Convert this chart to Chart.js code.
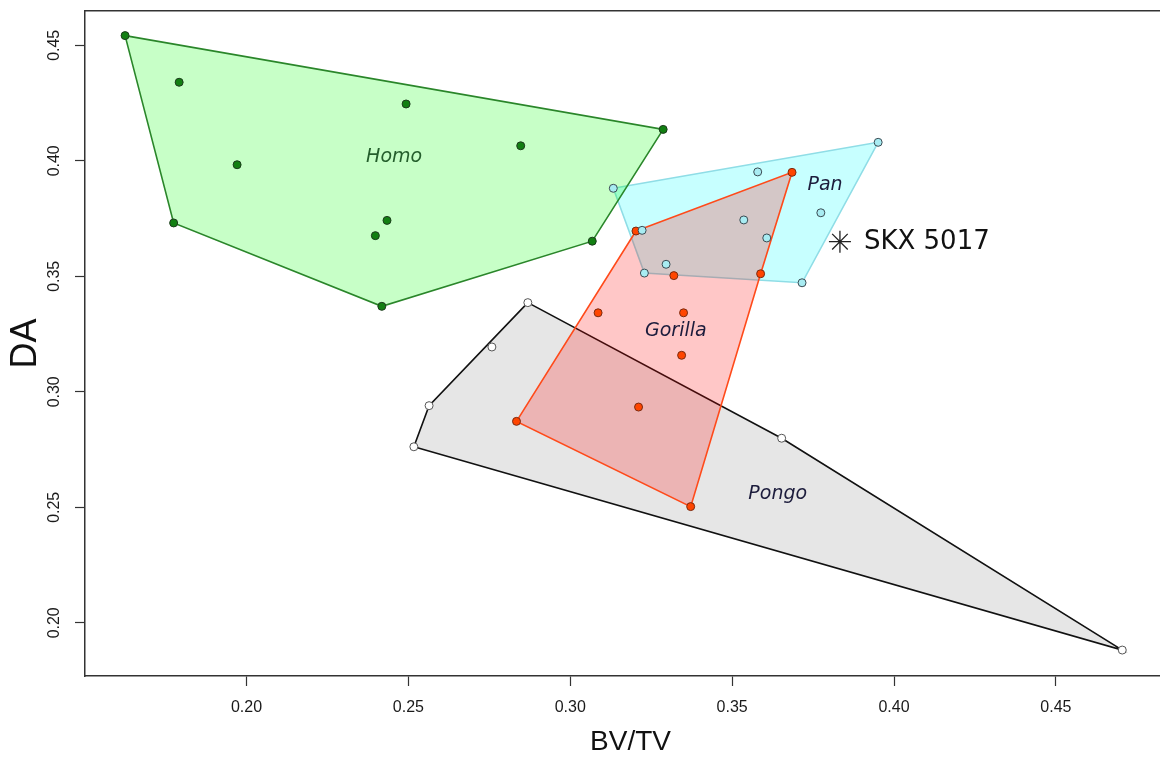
<!DOCTYPE html>
<html>
<head>
<meta charset="utf-8">
<script src="https://cdn.jsdelivr.net/npm/chart.js@4.4.1/dist/chart.umd.min.js"></script>
<style>
  html, body { margin: 0; padding: 0; background: #ffffff; overflow: hidden; }
  #wrap { width: 1176px; height: 760px; }
</style>
</head>
<body>
<div id="wrap"><canvas id="chart" width="1176" height="760"></canvas></div>
<script>
// Trabecular bone: bone volume fraction (BV/TV) vs degree of anisotropy (DA)
const homoBV = [0.1625, 0.1792, 0.1971, 0.1775, 0.2434, 0.2398, 0.2418, 0.3068, 0.3287, 0.2847, 0.2493];
const homoDA = [0.4542, 0.4340, 0.3983, 0.3731, 0.3742, 0.3676, 0.3370, 0.3652, 0.4136, 0.4065, 0.4246];
const homoHull = [0, 8, 7, 6, 3];

const panBV = [0.3133, 0.3579, 0.3951, 0.3774, 0.3536, 0.3222, 0.3607, 0.3296, 0.3229, 0.3716];
const panDA = [0.3881, 0.3952, 0.4080, 0.3775, 0.3744, 0.3699, 0.3666, 0.3552, 0.3514, 0.3472];
const panHull = [0, 2, 9, 8];

const gorillaBV = [0.3685, 0.3203, 0.3588, 0.3320, 0.3086, 0.3350, 0.3344, 0.3211, 0.2834, 0.3372];
const gorillaDA = [0.3950, 0.3696, 0.3511, 0.3503, 0.3342, 0.3342, 0.3158, 0.2934, 0.2872, 0.2503];
const gorillaHull = [1, 0, 2, 9, 8];

const pongoBV = [0.2869, 0.2758, 0.2564, 0.2517, 0.3653, 0.4705];
const pongoDA = [0.3386, 0.3194, 0.2940, 0.2762, 0.2799, 0.1882];
const pongoHull = [0, 4, 5, 3, 2];

// Fossil specimen
const fossilName = ['SKX 5017'];
const fossilBV = [0.3833];
const fossilDA = [0.3650];

// Genus name anchors (data coordinates)
const genusNames = ['Homo', 'Pan', 'Gorilla', 'Pongo'];
const genusLabelBV = [0.2456, 0.3787, 0.3326, 0.3641];
const genusLabelDA = [0.4016, 0.3895, 0.3263, 0.2558];

const xTicks = [0.20, 0.25, 0.30, 0.35, 0.40, 0.45];
const yTicks = [0.20, 0.25, 0.30, 0.35, 0.40, 0.45];

function pointsOf(xs, ys) {
  return xs.map((x, i) => ({ x: x, y: ys[i] }));
}
function hullOf(xs, ys, hull) {
  const pts = hull.map(i => ({ x: xs[i], y: ys[i] }));
  pts.push(pts[0]);
  return pts;
}
function polygon(xs, ys, hull, fillColor, lineColor, order) {
  return {
    data: hullOf(xs, ys, hull),
    showLine: true,
    fill: 'shape',
    backgroundColor: fillColor,
    borderColor: lineColor,
    borderWidth: 1.6,
    pointRadius: 0,
    tension: 0,
    order: order
  };
}
function markers(xs, ys, fillColor, edgeColor, order) {
  return {
    data: pointsOf(xs, ys),
    showLine: false,
    pointRadius: 4,
    pointBackgroundColor: fillColor,
    pointBorderColor: edgeColor,
    pointBorderWidth: 1,
    order: order
  };
}

const datasets = [
  polygon(pongoBV, pongoDA, pongoHull, 'rgba(128,128,128,0.2)', '#111111', 13),
  polygon(panBV, panDA, panHull, 'rgba(0,255,255,0.22)', '#8fdde6', 12),
  polygon(homoBV, homoDA, homoHull, 'rgba(0,255,0,0.22)', '#2a862a', 11),
  polygon(gorillaBV, gorillaDA, gorillaHull, 'rgba(255,0,0,0.22)', '#ff4a1a', 10),
  markers(pongoBV, pongoDA, '#ffffff', '#555555', 5),
  markers(homoBV, homoDA, '#127f12', '#1c3a1c', 4),
  markers(gorillaBV, gorillaDA, '#ff4500', '#7a2a10', 3),
  markers(panBV, panDA, '#a8ecf2', '#3a4a52', 2),
  {
    data: pointsOf(fossilBV, fossilDA),
    showLine: false,
    pointStyle: 'star',
    pointRadius: 11,
    pointBorderColor: '#222222',
    pointBackgroundColor: '#222222',
    pointBorderWidth: 1.3,
    order: 1
  }
];

// Genus names and fossil label
const annotations = {
  id: 'annotations',
  afterDatasetsDraw(chart) {
    const { ctx, scales: { x, y } } = chart;
    ctx.save();
    ctx.textAlign = 'center';
    ctx.textBaseline = 'middle';
    ctx.font = 'italic 19px "DejaVu Sans"';
    genusNames.forEach((name, i) => {
      ctx.fillStyle = name === 'Homo' ? '#245e2c' : '#1c1c3c';
      ctx.fillText(name, x.getPixelForValue(genusLabelBV[i]), y.getPixelForValue(genusLabelDA[i]));
    });
    ctx.font = '26px "DejaVu Sans"';
    ctx.fillStyle = '#111111';
    ctx.textAlign = 'left';
    fossilName.forEach((name, i) => {
      ctx.fillText(name, x.getPixelForValue(fossilBV[i]) + 24, y.getPixelForValue(fossilDA[i]) + 1);
    });
    ctx.restore();
  }
};

const axisColor = '#333333';
function noPadding(s) {
  s.paddingLeft = 0; s.paddingRight = 0; s.paddingTop = 0; s.paddingBottom = 0;
}

new Chart(document.getElementById('chart'), {
  type: 'line',
  data: { datasets: datasets },
  options: {
    responsive: false,
    animation: false,
    events: [],
    layout: { padding: 0, autoPadding: false },
    plugins: { legend: { display: false }, tooltip: { enabled: false } },
    scales: {
      x: {
        type: 'linear',
        position: 'bottom',
        min: 0.15012,
        max: 0.4871,
        afterBuildTicks: s => { s.ticks = xTicks.map(v => ({ value: v })); },
        afterFit: s => { s.height = 84; noPadding(s); },
        border: { display: true, color: axisColor, width: 1.5 },
        grid: { drawOnChartArea: false, drawTicks: true, tickLength: 10, tickColor: axisColor, tickWidth: 1.2 },
        ticks: {
          autoSkip: false, minRotation: 0, maxRotation: 0, padding: 12,
          color: '#1a1a1a', font: { family: 'Liberation Sans', size: 16 },
          callback: v => Number(v).toFixed(2)
        },
        title: {
          display: true, text: 'BV/TV', color: '#111111',
          font: { family: 'Liberation Sans', size: 28 },
          padding: { top: 0, bottom: 1 }
        }
      },
      xTop: {
        type: 'linear',
        position: 'top',
        min: 0, max: 1,
        afterFit: s => { s.height = 11; noPadding(s); },
        border: { display: true, color: axisColor, width: 1.5 },
        grid: { display: false, drawTicks: false },
        ticks: { display: false }
      },
      y: {
        type: 'linear',
        position: 'left',
        min: 0.17697,
        max: 0.46485,
        afterBuildTicks: s => { s.ticks = yTicks.map(v => ({ value: v })); },
        afterFit: s => { s.width = 85; noPadding(s); },
        border: { display: true, color: axisColor, width: 1.5 },
        grid: { drawOnChartArea: false, drawTicks: true, tickLength: 10, tickColor: axisColor, tickWidth: 1.2 },
        ticks: {
          autoSkip: false, minRotation: 90, maxRotation: 90, crossAlign: 'center', padding: 5,
          color: '#1a1a1a', font: { family: 'Liberation Sans', size: 16 },
          callback: v => Number(v).toFixed(2)
        },
        title: {
          display: true, text: 'DA', color: '#111111',
          font: { family: 'Liberation Sans', size: 36 },
          padding: { top: 4, bottom: 0 }
        }
      }
    }
  },
  plugins: [annotations]
});
</script>
</body>
</html>
